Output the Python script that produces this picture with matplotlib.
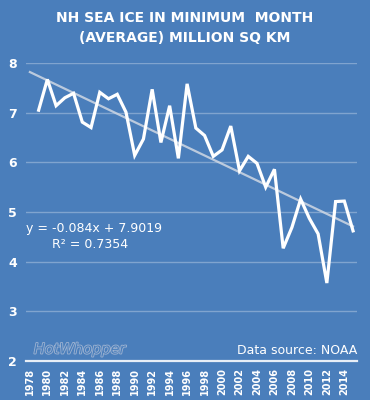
import matplotlib
matplotlib.use('Agg')
import matplotlib.pyplot as plt
import matplotlib.patheffects as pe

# NH sea ice, minimum month average (million sq km)
years = list(range(1979, 2016))
extent = [7.05, 7.67, 7.14, 7.30, 7.39, 6.81, 6.70, 7.41, 7.28, 7.37,
          7.01, 6.14, 6.47, 7.47, 6.40, 7.14, 6.08, 7.58, 6.69, 6.54,
          6.12, 6.25, 6.73, 5.83, 6.12, 5.98, 5.50, 5.86, 4.27, 4.69,
          5.26, 4.87, 4.56, 3.57, 5.21, 5.22, 4.62]

# excel trend line: y = -0.084x + 7.9019, x = 1 at 1978
slope = -0.084
intercept = 7.9019
trend_years = [1978, 2015]
trend_vals = [slope * (y - 1977) + intercept for y in trend_years]

xtick_years = list(range(1978, 2015, 2))
yticks = [2, 3, 4, 5, 6, 7, 8]

bg = '#4a7ebb'

fig = plt.figure(figsize=(3.7, 4.0), dpi=100, facecolor=bg)
ax = fig.add_axes([0.069, 0.0975, 0.897, 0.745], facecolor=bg)

for v in yticks[1:]:
    ax.axhline(v, color='white', alpha=0.3, lw=1.0, zorder=1)

ax.plot(trend_years, trend_vals, color='#d0d8e4', lw=1.6, alpha=0.85, zorder=2)
ax.plot(years, extent, color='white', lw=2.3, solid_joinstyle='miter', zorder=3)

ax.set_xlim(1977.5, 2015.5)
ax.set_ylim(2, 8)
ax.set_yticks(yticks)
ax.set_xticks(xtick_years)
ax.set_xticklabels([str(y) for y in xtick_years], rotation=90)
ax.tick_params(axis='both', colors='white', length=0)
ax.tick_params(axis='x', labelsize=7, pad=5)
ax.tick_params(axis='y', labelsize=9, pad=6)
for lab in ax.get_yticklabels() + ax.get_xticklabels():
    lab.set_fontweight('bold')

for s in ['top', 'right', 'left']:
    ax.spines[s].set_visible(False)
ax.spines['bottom'].set_color('#e8eef6')
ax.spines['bottom'].set_linewidth(1.6)

fig.text(0.5, 0.955, 'NH SEA ICE IN MINIMUM  MONTH', ha='center', va='center',
         color='white', fontsize=10, fontweight='bold')
fig.text(0.5, 0.905, '(AVERAGE) MILLION SQ KM', ha='center', va='center',
         color='white', fontsize=10, fontweight='bold')

ax.text(0.0, 0.445, 'y = -0.084x + 7.9019', transform=ax.transAxes,
        color='white', fontsize=9, ha='left', va='center')
ax.text(0.08, 0.39, 'R² = 0.7354', transform=ax.transAxes,
        color='white', fontsize=9, ha='left', va='center')

ax.text(1.0, 0.035, 'Data source: NOAA', transform=ax.transAxes,
        color='white', fontsize=9, ha='right', va='center')

ax.text(0.025, 0.04, 'HotWhopper', transform=ax.transAxes, color=bg,
        fontsize=10.5, fontstyle='italic', ha='left', va='center',
        path_effects=[pe.withStroke(linewidth=1.2, foreground='#9fb4d2')])

fig.savefig('out.png', dpi=100, facecolor=bg)
